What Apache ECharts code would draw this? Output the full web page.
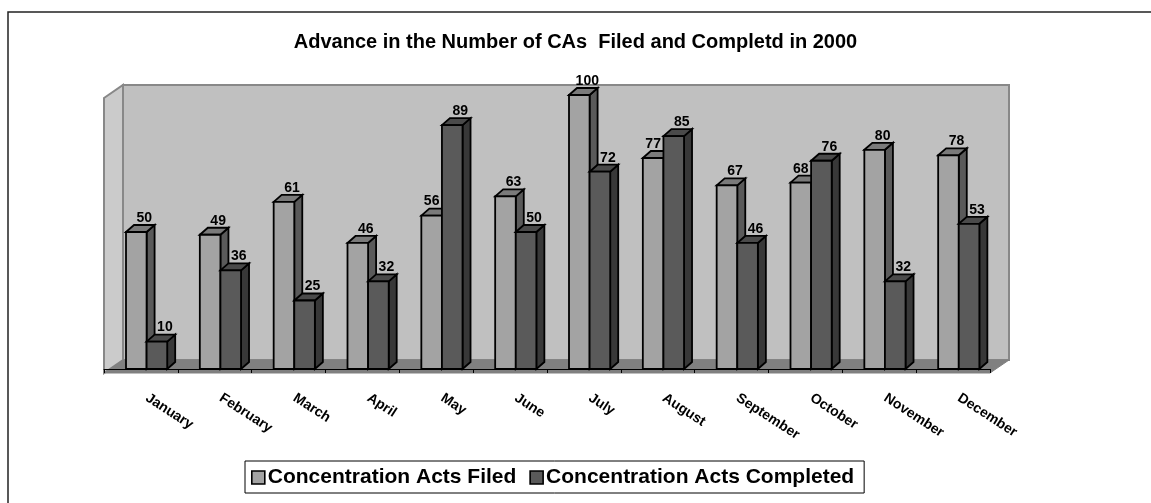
<!DOCTYPE html>
<html>
<head>
<meta charset="utf-8">
<script src="https://cdn.jsdelivr.net/npm/echarts@6/dist/echarts.min.js"></script>
<style>
html,body{margin:0;padding:0;background:#fff;}
#chart{width:1151px;height:503px;}
</style>
</head>
<body>
<div id="chart"></div>
<script>
const months = ['January','February','March','April','May','June','July','August','September','October','November','December'];
const filed = [50, 49, 61, 46, 56, 63, 100, 77, 67, 68, 80, 78];
const completed = [10, 36, 25, 32, 89, 50, 72, 85, 46, 76, 32, 53];
const seriesNames = ['Concentration Acts Filed', 'Concentration Acts Completed'];
const titleText = 'Advance in the Number of CAs  Filed and Completd in 2000';

const FONT = "'Liberation Sans', Arial, sans-serif";
const styles = [
  {front: '#a3a3a3', side: '#5a5a5a', top: '#7a7a7a'},
  {front: '#5a5a5a', side: '#383838', top: '#4a4a4a'}
];
const DX = 8, DY = 7;

function makeRender(slot) {
  const c = styles[slot];
  return function (params, api) {
    const idx = api.value(0), v = api.value(1);
    const base = api.coord([idx, 0]);
    const topP = api.coord([idx, v]);
    const band = api.size([1, 0])[0];
    const w = band * 0.279;
    const x0 = base[0] - band * 0.202 + slot * w;
    const x1 = x0 + w;
    const yb = base[1], yt = topP[1];
    const line = {stroke: '#000', lineWidth: 1.8, lineJoin: 'miter'};
    let lx = (x0 + x1) / 2 + 8;
    if (slot === 0 && completed[idx] > v) lx = (x0 + x1) / 2;
    return {
      type: 'group',
      children: [
        {type: 'polygon', shape: {points: [[x1, yt], [x1 + DX, yt - DY], [x1 + DX, yb - DY], [x1, yb]]},
         style: Object.assign({fill: c.side}, line)},
        {type: 'polygon', shape: {points: [[x0, yt], [x0 + DX, yt - DY], [x1 + DX, yt - DY], [x1, yt]]},
         style: Object.assign({fill: c.top}, line)},
        {type: 'rect', shape: {x: x0, y: yt, width: w, height: yb - yt},
         style: Object.assign({fill: c.front}, line)},
        {type: 'text', z2: 100, style: {text: String(v), x: lx, y: yt - 7, align: 'center', verticalAlign: 'bottom',
          font: 'bold 14px ' + FONT, fill: '#000'}}
      ]
    };
  };
}

const chart = echarts.init(document.getElementById('chart'), null, {renderer: 'canvas'});
chart.setOption({
  animation: false,
  backgroundColor: '#fff',
  title: {
    text: titleText, left: 'center', top: 32, padding: 0,
    textStyle: {fontFamily: FONT, fontWeight: 'bold', fontSize: 20, color: '#000'}
  },
  legend: {
    data: seriesNames, left: 245, top: 461, padding: [6, 10, 5, 6],
    itemWidth: 13, itemHeight: 13, itemGap: 13, icon: 'rect',
    borderColor: '#000', borderWidth: 1, backgroundColor: '#fff',
    itemStyle: {borderColor: '#000', borderWidth: 1.6},
    textStyle: {fontFamily: FONT, fontWeight: 'bold', fontSize: 21, color: '#000', padding: [2, 0, 0, -2]}
  },
  grid: {left: 104, right: 161, top: 95, bottom: 134, containLabel: false},
  xAxis: {
    type: 'category', data: months, boundaryGap: true, offset: 4,
    axisLine: {lineStyle: {color: '#000', width: 1}},
    axisTick: {show: true, length: 4, lineStyle: {color: '#000'}},
    axisLabel: {rotate: -33, margin: 20, interval: 0, padding: [0, 0, 0, 7], fontFamily: FONT, fontWeight: 'bold', fontSize: 14, color: '#000'},
    splitLine: {show: false}
  },
  yAxis: {type: 'value', min: 0, max: 100, show: false},
  graphic: {
    elements: [
      {type: 'rect', z: 0, shape: {x: 8, y: 12, width: 1200, height: 560}, style: {fill: 'none', stroke: '#222', lineWidth: 1.5}},
      {type: 'polygon', z: 0, shape: {points: [[123, 85], [1009, 85], [1009, 360], [123, 360]]},
       style: {fill: '#c0c0c0', stroke: '#888', lineWidth: 2}},
      {type: 'polygon', z: 0, shape: {points: [[104, 98], [123, 85], [123, 360], [104, 373]]},
       style: {fill: '#cbcbcb', stroke: '#888', lineWidth: 2}},
      {type: 'polygon', z: 0, shape: {points: [[104, 373], [123, 360], [1009, 360], [990, 373]]},
       style: {fill: '#808080', stroke: '#808080', lineWidth: 1}}
    ]
  },
  series: [
    {name: seriesNames[0], type: 'custom', renderItem: makeRender(0), itemStyle: {color: '#a3a3a3'},
     encode: {x: 0, y: 1}, data: filed.map((v, i) => [i, v])},
    {name: seriesNames[1], type: 'custom', renderItem: makeRender(1), itemStyle: {color: '#5a5a5a'},
     encode: {x: 0, y: 1}, data: completed.map((v, i) => [i, v])}
  ]
});
</script>
</body>
</html>
